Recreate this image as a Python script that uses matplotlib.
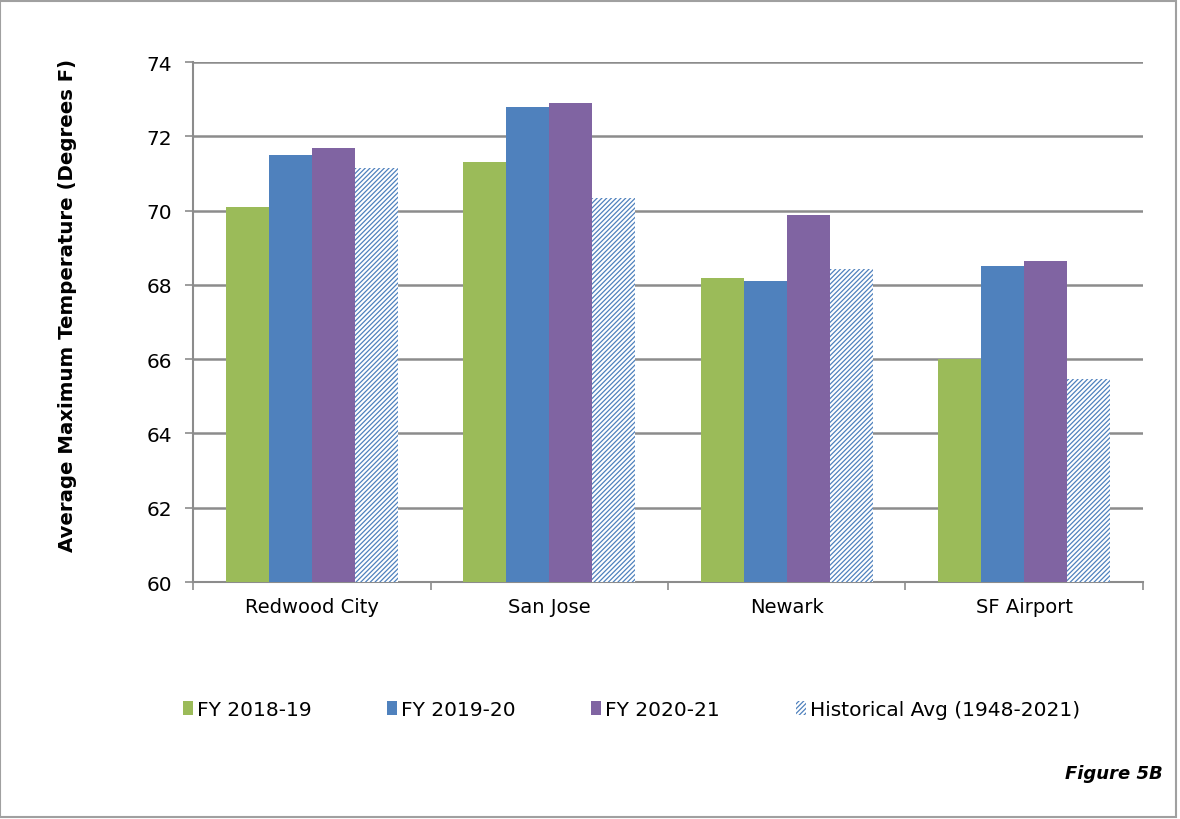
#!/usr/bin/env python3

import matplotlib

matplotlib.use("Agg")

import matplotlib.pyplot as plt
import numpy as np
from matplotlib.patches import Patch, Rectangle


STATIONS = ["Redwood City", "San Jose", "Newark", "SF Airport"]
SERIES_NAMES = ["FY 2018-19", "FY 2019-20", "FY 2020-21", "Historical Avg (1948-2021)"]
FY_2018_19 = [70.1, 71.3, 68.2, 66.0]
FY_2019_20 = [71.5, 72.8, 68.1, 68.5]
FY_2020_21 = [71.7, 72.9, 69.88, 68.65]
HIST_AVG = [71.15, 70.33, 68.42, 65.47]
Y_TICKS = [60, 62, 64, 66, 68, 70, 72, 74]

GREEN = "#9BBB59"
BLUE = "#4F81BD"
PURPLE = "#8064A2"
GRID = "#8C8C8C"
TEXT_FONT = ["DejaVu Sans"]
HATCH = "///////"


def main():
    plt.rcParams["hatch.linewidth"] = 0.9
    plt.rcParams["font.family"] = TEXT_FONT

    fig = plt.figure(figsize=(11.8, 8.2), dpi=100)
    ax = fig.add_axes([0.1636, 0.289, 0.805, 0.634])

    x = np.arange(len(STATIONS))
    width = 0.181
    series = [FY_2018_19, FY_2019_20, FY_2020_21]
    colors = [GREEN, BLUE, PURPLE]
    for i, (vals, col) in enumerate(zip(series, colors)):
        ax.bar(x + (i - 1.5) * width, np.array(vals) - 60, width, bottom=60,
               color=col, edgecolor="none", zorder=3)
    ax.bar(x + 1.5 * width, np.array(HIST_AVG) - 60, width, bottom=60,
           facecolor="white", edgecolor=BLUE, hatch=HATCH, linewidth=0, zorder=3)

    ax.set_ylim(60, 74)
    ax.set_xlim(-0.5, len(STATIONS) - 0.5)
    ax.set_yticks(Y_TICKS)
    ax.set_yticklabels([str(t) for t in Y_TICKS], fontsize=14.5)
    ax.set_xticks(x)
    ax.set_xticklabels(STATIONS, fontsize=14)
    ax.set_xticks(np.arange(len(STATIONS) + 1) - 0.5, minor=True)
    ax.tick_params(axis="x", which="major", length=0, pad=11)
    ax.tick_params(axis="x", which="minor", length=6, color=GRID, width=1.2)
    ax.tick_params(axis="y", length=6, color=GRID, width=1.2, pad=9)

    ax.grid(axis="y", color=GRID, linewidth=1.8, zorder=0)
    for side in ["top", "right"]:
        ax.spines[side].set_visible(False)
    for side in ["left", "bottom"]:
        ax.spines[side].set_color(GRID)
        ax.spines[side].set_linewidth(1.5)

    ax.set_ylabel("Average Maximum Temperature (Degrees F)", fontsize=14.2, fontweight="bold")
    ax.yaxis.set_label_coords(-0.122, 0.533)

    handles = [
        Patch(facecolor=GREEN, edgecolor="none"),
        Patch(facecolor=BLUE, edgecolor="none"),
        Patch(facecolor=PURPLE, edgecolor="none"),
        Patch(facecolor="white", edgecolor=BLUE, hatch=HATCH, linewidth=0),
    ]
    fig.legend(handles, SERIES_NAMES, loc="center", bbox_to_anchor=(0.535, 0.134), ncol=4,
               frameon=False, fontsize=14.5, handlelength=0.5, handleheight=0.7,
               handletextpad=0.2, columnspacing=3.75)

    fig.text(0.985, 0.056, "Figure 5B", ha="right", va="center", fontsize=13,
             fontweight="bold", fontstyle="italic")

    fig.add_artist(Rectangle((0.0, 0.002), 0.997, 0.996, transform=fig.transFigure,
                             fill=False, edgecolor="#A0A0A0", linewidth=1.5))

    fig.savefig("out.png", dpi=100)
    plt.close(fig)


if __name__ == "__main__":
    main()
